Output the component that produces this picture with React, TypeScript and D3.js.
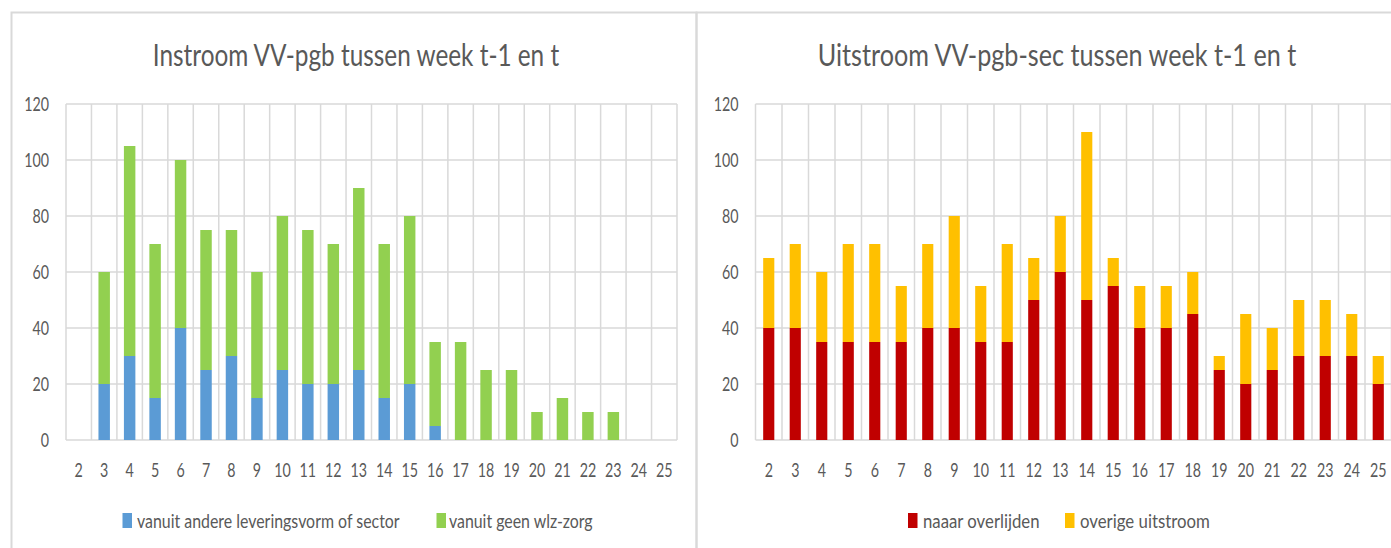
import React from 'react';
import * as d3 from 'd3';

const weeks = ['2','3','4','5','6','7','8','9','10','11','12','13','14','15','16','17','18','19','20','21','22','23','24','25'];
const yTicks = [0, 20, 40, 60, 80, 100, 120];

// Instroom
const inAndere = [0,20,30,15,40,25,30,15,25,20,20,25,15,20,5,0,0,0,0,0,0,0,0,0];
const inGeenWlz = [0,40,75,55,60,50,45,45,55,55,50,65,55,60,30,35,25,25,10,15,10,10,0,0];

// Uitstroom
const outOverlijden = [40,40,35,35,35,35,40,40,35,35,50,60,50,55,40,40,45,25,20,25,30,30,30,20];
const outOverige = [25,30,25,35,35,20,30,40,20,35,15,20,60,10,15,15,15,5,25,15,20,20,15,10];

const TEXT = '#595959';
const GRID = '#D9D9D9';
const FONT = 'Lato, "Open Sans", sans-serif';

let ctx: CanvasRenderingContext2D | null = null;
function measure(text: string, size: number): number {
  if (!ctx) ctx = document.createElement('canvas').getContext('2d');
  if (!ctx) return text.length * size * 0.5;
  ctx.font = `${size}px ${FONT}`;
  return ctx.measureText(text).width;
}

type LegendItem = { label: string; color: string; sq: number; tx: number; tw: number };

function SText({ x, y, children, size, anchor = 'middle', sx = 0.75 }: any) {
  return (
    <text transform={`translate(${x},${y}) scale(${sx},1)`} fontSize={size} fill={TEXT}
      fontFamily={FONT} textAnchor={anchor}>{children}</text>
  );
}

function FitText({ x, y, text, size, width, anchor = 'start' }: any) {
  const sx = width / measure(text, size);
  return (
    <text transform={`translate(${x},${y}) scale(${sx},1)`} fontSize={size} fill={TEXT}
      fontFamily={FONT} textAnchor={anchor}>{text}</text>
  );
}

function Panel(props: {
  plotLeft: number; plotRight: number; title: string; titleX: number; titleW: number;
  s1: number[]; s2: number[]; colors: string[]; legend: LegendItem[]; barFrac: number;
}) {
  const { plotLeft, plotRight, title, titleX, titleW, s1, s2, colors, legend, barFrac } = props;
  const top = 104, bottom = 440;
  const x = d3.scaleBand<string>().domain(weeks).range([plotLeft, plotRight]).padding(0);
  const y = d3.scaleLinear().domain([0, 120]).range([bottom, top]);
  const rows = weeks.map((w, i) => ({ w, a: s1[i], b: s2[i] }));
  const stacked = d3.stack<any>().keys(['a', 'b'])(rows);
  const bw = x.bandwidth() * barFrac;
  const edges = weeks.map(w => x(w)!).concat([plotRight]);
  return (
    <g>
      <FitText x={titleX} y={66} text={title} size={30} width={titleW} anchor="middle" />
      {yTicks.map(t => (
        <line key={'h' + t} x1={plotLeft} x2={plotRight} y1={y(t)} y2={y(t)} stroke={GRID} strokeWidth={1.5} />
      ))}
      {edges.map((e, i) => (
        <line key={'v' + i} x1={e} x2={e} y1={top} y2={bottom} stroke={GRID} strokeWidth={1.5} />
      ))}
      {stacked.map((layer, li) => (
        <g key={li} fill={colors[li]}>
          {layer.map((d, i) => {
            const h = y(d[0]) - y(d[1]);
            if (h <= 0) return null;
            return <rect key={i} x={x(weeks[i])! + (x.bandwidth() - bw) / 2} y={y(d[1])} width={bw} height={h} />;
          })}
        </g>
      ))}
      {yTicks.map(t => (
        <SText key={'yl' + t} x={plotLeft - 17} y={y(t) + 7} size={19} anchor="end">{t}</SText>
      ))}
      {weeks.map(w => (
        <SText key={'xl' + w} x={x(w)! + x.bandwidth() / 2} y={477} size={19}>{w}</SText>
      ))}
      {legend.map(l => (
        <g key={l.label}>
          <rect x={l.sq} y={513} width={9.5} height={15} fill={l.color} />
          <FitText x={l.tx} y={528} text={l.label} size={20} width={l.tw} />
        </g>
      ))}
    </g>
  );
}

export default function App() {
  return (
    <svg width={1391} height={548} style={{ position: 'absolute', left: 0, top: 0, display: 'block', background: '#fff' }}>
      <rect x={0} y={0} width={1391} height={548} fill="#fff" />
      <rect x={11.5} y={12.5} width={685} height={600} fill="none" stroke={GRID} strokeWidth={2} />
      <rect x={696.5} y={12.5} width={800} height={600} fill="none" stroke={GRID} strokeWidth={2} />
      <Panel plotLeft={66} plotRight={677} title="Instroom VV-pgb tussen week t-1 en t" titleX={356} titleW={408}
        s1={inAndere} s2={inGeenWlz} colors={['#5B9BD5', '#92D050']} barFrac={0.45}
        legend={[
          { label: 'vanuit andere leveringsvorm of sector', color: '#5B9BD5', sq: 122.5, tx: 137, tw: 263 },
          { label: 'vanuit geen wlz-zorg', color: '#92D050', sq: 436.5, tx: 449, tw: 144 },
        ]} />
      <Panel plotLeft={755.5} plotRight={1391.5} title="Uitstroom VV-pgb-sec tussen week t-1 en t" titleX={1057} titleW={480}
        s1={outOverlijden} s2={outOverige} colors={['#C00000', '#FFC000']} barFrac={0.42}
        legend={[
          { label: 'naaar overlijden', color: '#C00000', sq: 908, tx: 923, tw: 117 },
          { label: 'overige uitstroom', color: '#FFC000', sq: 1065, tx: 1080, tw: 130 },
        ]} />
    </svg>
  );
}
